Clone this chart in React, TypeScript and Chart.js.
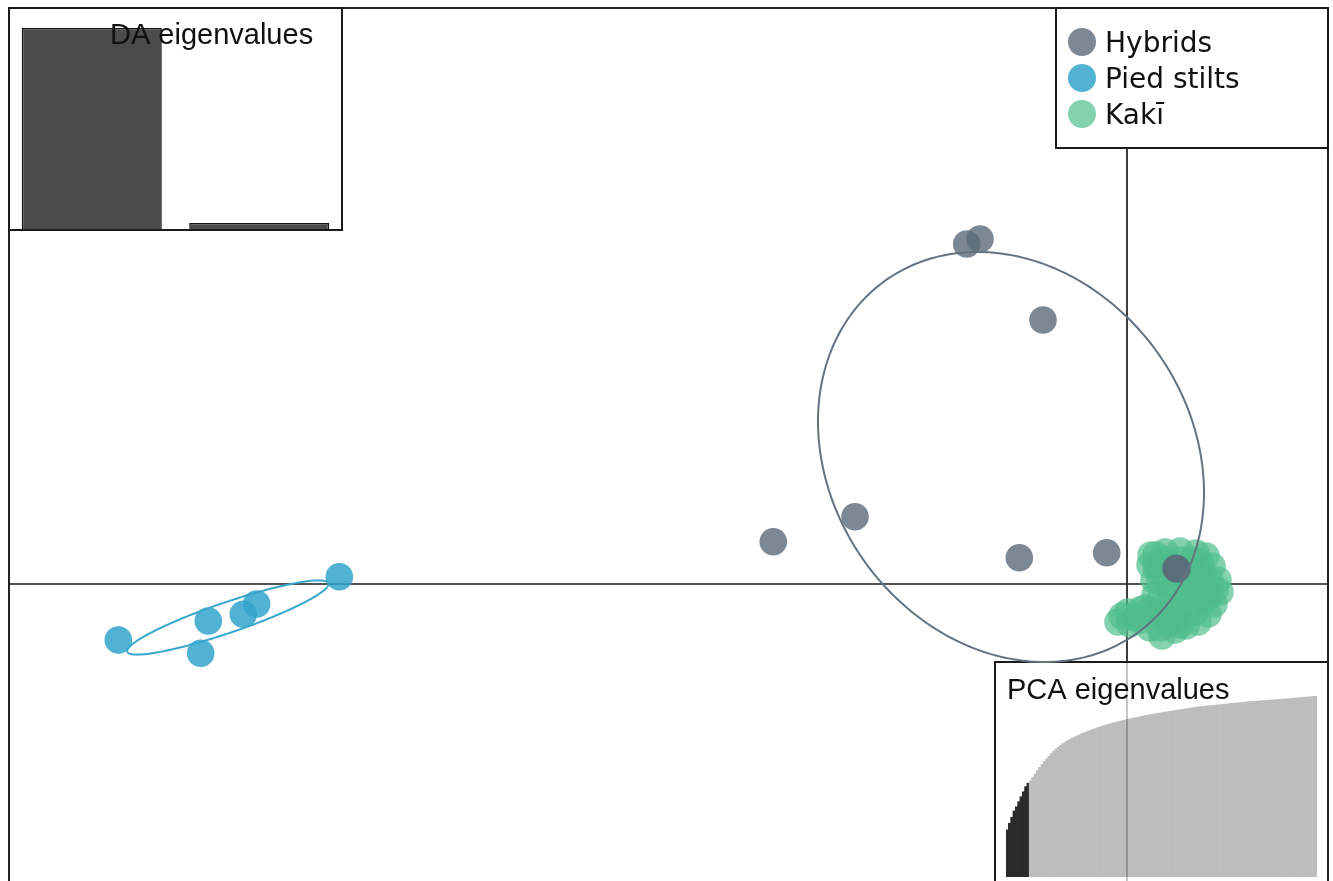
import React, { useEffect, useRef } from "react";
import { Chart, registerables } from "chart.js";

Chart.register(...registerables);

// ---------- data ----------
const GROUPS = ["Hybrids", "Pied stilts", "Kakī"];
const GROUP_COLORS = ["rgba(91,107,121,0.8)", "rgba(50,165,205,0.85)", "rgba(80,190,140,0.7)"];
const ELLIPSE_COLORS = ["#64737f", "#38a6cd"];

const HYBRID_X = [-1.603, -1.47, -0.84, -2.72, -3.537, -1.077, -0.203, 0.49, 0.5];
const HYBRID_Y = [3.40, 3.45, 2.64, 0.673, 0.423, 0.263, 0.313, 0.157, 0.15];

const PIED_X = [-10.087, -9.187, -9.263, -8.837, -8.703, -7.877];
const PIED_Y = [-0.56, -0.37, -0.693, -0.303, -0.20, 0.073];

const KAKI_X = [0.24, 0.38, 0.53, 0.69, 0.79, 0.85, 0.91, 0.93, 0.87, 0.81, 0.71, 0.59, 0.48, 0.35, 0.23,
  0.13, 0.01, -0.09, 0.03, 0.18, 0.28, 0.27, 0.31, 0.43, 0.58, 0.68, 0.78, 0.73, 0.63, 0.51,
  0.38, 0.33, 0.45, 0.58, 0.33, 0.65, 0.49, 0.29, 0.75, 0.41, 0.13, 0.28, 0.55, 0.83,
  0.38, 0.53, 0.73, 0.83, 0.63, 0.43, 0.23, 0.08, 0.48, 0.68, 0.78, 0.38, 0.58, 0.88, 0.33,
  0.23, 0.70, 0.53, -0.05, 0.29];
const KAKI_Y = [0.29, 0.32, 0.33, 0.31, 0.28, 0.18, 0.04, -0.08, -0.20, -0.30, -0.38, -0.42, -0.46, -0.52, -0.44,
  -0.36, -0.28, -0.38, -0.40, -0.24, -0.11, 0.04, 0.14, 0.19, 0.16, 0.09, -0.01, -0.14, -0.21, -0.28,
  -0.31, -0.16, -0.06, -0.06, 0.02, 0.24, 0.06, 0.19, 0.14, -0.38, -0.26, -0.28, -0.16, -0.11,
  0.24, 0.24, 0.22, 0.04, -0.01, -0.16, -0.26, -0.34, -0.36, -0.28, -0.16, 0.09, 0.06, -0.06, -0.44,
  0.19, -0.06, -0.41, -0.32, 0.29];

// group ellipses (Hybrids, Pied stilts)
const ELLIPSE_CX = [-1.16, -8.992];
const ELLIPSE_CY = [1.27, -0.335];
const ELLIPSE_A = [2.166, 1.062];
const ELLIPSE_B = [1.799, 0.152];
const ELLIPSE_ANGLE = [-54.6, 18.8];

// axis ranges of the discriminant plane
const X_MIN = -11.18;
const X_MAX = 2.01;
const Y_MIN = -2.97;
const Y_MAX = 5.76;

// DA eigenvalues inset
const DA_LABELS = ["LD1", "LD2"];
const DA_EIGENVALUES = [1346.2, 40.2];

// PCA eigenvalues inset (cumulated variance, %)
const PCA_CUMVAR = [
  26.0, 29.7, 33.0, 36.5, 38.8, 41.6, 44.4, 47.1, 49.9, 51.8,
  53.0, 55.0, 56.9, 58.8, 60.6, 62.2, 63.8, 65.3, 66.7, 68.1,
  69.4, 70.6, 71.7, 72.7, 73.7, 74.5, 75.3, 76.0, 76.7, 77.3,
  77.9, 78.5, 79.1, 79.6, 80.1, 80.6, 81.1, 81.6, 82.0, 82.5,
  82.9, 83.3, 83.7, 84.1, 84.5, 84.8, 85.2, 85.5, 85.9, 86.2,
  86.5, 86.8, 87.1, 87.4, 87.7, 88.0, 88.2, 88.5, 88.8, 89.0,
  89.3, 89.5, 89.8, 90.0, 90.2, 90.5, 90.7, 90.9, 91.1, 91.3,
  91.5, 91.7, 91.9, 92.1, 92.3, 92.5, 92.7, 92.9, 93.1, 93.3,
  93.5, 93.7, 93.9, 94.1, 94.2, 94.3, 94.5, 94.6, 94.7, 94.9,
  95.0, 95.1, 95.2, 95.4, 95.5, 95.6, 95.8, 95.9, 96.0, 96.2,
  96.3, 96.4, 96.5, 96.7, 96.8, 96.9, 97.0, 97.1, 97.2, 97.3,
  97.4, 97.5, 97.6, 97.7, 97.8, 97.9, 98.0, 98.1, 98.2, 98.3,
  98.4, 98.5, 98.6, 98.8, 98.9, 99.0, 99.1, 99.2, 99.3, 99.4,
  99.5, 99.7, 99.8, 100.0,
];
const PCA_LABELS = PCA_CUMVAR.map((_, i) => `PC${i + 1}`);
const PCA_RETAINED = 10;

// ---------- layout ----------
const W = 1333;
const H = 881;
const DA_BOX = { left: 8, top: 7, width: 335, height: 224 };
const PCA_BOX = { left: 994, top: 661, width: 335, height: 224 };
const LEGEND_BOX = { left: 1056, top: 8, width: 272, height: 140 };

const toPts = (xs: number[], ys: number[]) => xs.map((x, i) => ({ x, y: ys[i] }));

const mainDecor = {
  id: "mainDecor",
  beforeDatasetsDraw(chart: any) {
    const { ctx, chartArea: ca, scales } = chart;
    const x0 = scales.x.getPixelForValue(0);
    const y0 = scales.y.getPixelForValue(0);
    ctx.save();
    ctx.strokeStyle = "#1c1c1c";
    ctx.lineWidth = 1.7;
    ctx.beginPath();
    ctx.moveTo(ca.left, y0);
    ctx.lineTo(ca.right, y0);
    ctx.stroke();
    ctx.beginPath();
    ctx.moveTo(x0, ca.top);
    ctx.lineTo(x0, PCA_BOX.top + 1);
    ctx.stroke();
    ctx.strokeStyle = "rgba(0,0,0,0.3)";
    ctx.lineWidth = 1.5;
    ctx.beginPath();
    ctx.moveTo(x0, PCA_BOX.top + 1);
    ctx.lineTo(x0, H);
    ctx.stroke();
    // frame
    ctx.strokeStyle = "#222";
    ctx.lineWidth = 2;
    ctx.beginPath();
    ctx.moveTo(ca.left, H + 5);
    ctx.lineTo(ca.left, ca.top);
    ctx.lineTo(ca.right, ca.top);
    ctx.lineTo(ca.right, H + 5);
    ctx.stroke();
    ctx.restore();
  },
  afterDatasetsDraw(chart: any) {
    const { ctx, scales } = chart;
    ctx.save();
    ctx.lineWidth = 2;
    for (let k = 0; k < ELLIPSE_CX.length; k++) {
      const ang = (ELLIPSE_ANGLE[k] * Math.PI) / 180;
      ctx.strokeStyle = ELLIPSE_COLORS[k];
      ctx.beginPath();
      for (let t = 0; t <= 360; t += 1) {
        const th = (t * Math.PI) / 180;
        const ex = ELLIPSE_CX[k] + ELLIPSE_A[k] * Math.cos(th) * Math.cos(ang) - ELLIPSE_B[k] * Math.sin(th) * Math.sin(ang);
        const ey = ELLIPSE_CY[k] + ELLIPSE_A[k] * Math.cos(th) * Math.sin(ang) + ELLIPSE_B[k] * Math.sin(th) * Math.cos(ang);
        const px = scales.x.getPixelForValue(ex);
        const py = scales.y.getPixelForValue(ey);
        if (t === 0) ctx.moveTo(px, py);
        else ctx.lineTo(px, py);
      }
      ctx.closePath();
      ctx.stroke();
    }
    ctx.restore();
  },
  afterDraw(chart: any) {
    const { ctx } = chart;
    const b = LEGEND_BOX;
    ctx.save();
    ctx.fillStyle = "#fff";
    ctx.fillRect(b.left, b.top, b.width, b.height);
    ctx.strokeStyle = "#1a1a1a";
    ctx.lineWidth = 2;
    ctx.strokeRect(b.left, b.top, b.width, b.height);
    ctx.font = '28px "DejaVu Sans"';
    ctx.textBaseline = "alphabetic";
    ctx.textAlign = "left";
    GROUPS.forEach((g, i) => {
      const cy = 42 + i * 36;
      ctx.fillStyle = GROUP_COLORS[i];
      ctx.beginPath();
      ctx.arc(1082, cy, 14, 0, Math.PI * 2);
      ctx.fill();
      ctx.fillStyle = "#111";
      ctx.fillText(g, 1105, cy + 9.5);
    });
    ctx.restore();
  },
};

const insetDecor = (title: string, tx: number, ty: number) => ({
  id: "insetDecor",
  beforeDraw(chart: any) {
    const { ctx, width, height } = chart;
    ctx.save();
    ctx.fillStyle = "#fff";
    ctx.fillRect(0, 0, width, height);
    ctx.restore();
  },
  afterDraw(chart: any) {
    const { ctx, width, height } = chart;
    ctx.save();
    ctx.strokeStyle = "#1a1a1a";
    ctx.lineWidth = 2;
    ctx.strokeRect(1, 1, width - 2, height - 2);
    ctx.fillStyle = "#111";
    ctx.font = '29px "Liberation Sans", Arial, sans-serif';
    ctx.textBaseline = "alphabetic";
    ctx.textAlign = "left";
    ctx.fillText(title, tx, ty);
    ctx.restore();
  },
});

export default function App() {
  const mainRef = useRef<HTMLCanvasElement>(null);
  const daRef = useRef<HTMLCanvasElement>(null);
  const pcaRef = useRef<HTMLCanvasElement>(null);

  useEffect(() => {
    const charts: Chart[] = [];
    if (mainRef.current) {
      charts.push(
        new Chart(mainRef.current, {
          type: "scatter",
          data: {
            datasets: [
              { label: GROUPS[0], data: toPts(HYBRID_X, HYBRID_Y), backgroundColor: GROUP_COLORS[0], borderWidth: 0, pointRadius: 13.8 },
              { label: GROUPS[1], data: toPts(PIED_X, PIED_Y), backgroundColor: GROUP_COLORS[1], borderWidth: 0, pointRadius: 13.8 },
              { label: GROUPS[2], data: toPts(KAKI_X, KAKI_Y), backgroundColor: GROUP_COLORS[2], borderWidth: 0, pointRadius: 13.8 },
            ],
          },
          options: {
            responsive: false,
            animation: false,
            layout: { autoPadding: false, padding: { left: 9, right: W - 1328, top: 8, bottom: 0 } },
            scales: {
              x: { type: "linear", min: X_MIN, max: X_MAX, display: false },
              y: { type: "linear", min: Y_MIN, max: Y_MAX, display: false },
            },
            plugins: { legend: { display: false }, tooltip: { enabled: false } },
          } as any,
          plugins: [mainDecor as any],
        })
      );
    }
    if (daRef.current) {
      charts.push(
        new Chart(daRef.current, {
          type: "bar",
          data: {
            labels: DA_LABELS,
            datasets: [
              {
                data: DA_EIGENVALUES,
                backgroundColor: "#4b4b4b",
                borderColor: "#111",
                borderWidth: 1.5,
                barPercentage: 0.836,
                categoryPercentage: 1,
              },
            ],
          },
          options: {
            responsive: false,
            animation: false,
            layout: { autoPadding: false, padding: { left: 0, right: 0, top: 21, bottom: 2 } },
            scales: {
              x: { display: false },
              y: { display: false, min: 0, max: DA_EIGENVALUES[0] },
            },
            plugins: { legend: { display: false }, tooltip: { enabled: false } },
          } as any,
          plugins: [insetDecor("DA eigenvalues", 102, 37) as any],
        })
      );
    }
    if (pcaRef.current) {
      charts.push(
        new Chart(pcaRef.current, {
          type: "bar",
          data: {
            labels: PCA_LABELS,
            datasets: [
              {
                data: PCA_CUMVAR,
                backgroundColor: PCA_CUMVAR.map((_, i) => (i < PCA_RETAINED ? "#2a2a2a" : "#bdbdbd")),
                borderWidth: 0,
                barPercentage: 1,
                categoryPercentage: 1,
              },
            ],
          },
          options: {
            responsive: false,
            animation: false,
            layout: { autoPadding: false, padding: { left: 12, right: 12, top: 35, bottom: 8 } },
            scales: {
              x: { display: false },
              y: { display: false, min: 0, max: 100 },
            },
            plugins: { legend: { display: false }, tooltip: { enabled: false } },
          } as any,
          plugins: [insetDecor("PCA eigenvalues", 13, 38) as any],
        })
      );
    }
    return () => charts.forEach((c) => c.destroy());
  }, []);

  return (
    <div style={{ position: "fixed", left: 0, top: 0, width: W, height: H, overflow: "hidden", background: "#fff" }}>
      <canvas ref={pcaRef} width={PCA_BOX.width} height={PCA_BOX.height}
        style={{ position: "absolute", left: PCA_BOX.left, top: PCA_BOX.top, zIndex: 0 }} />
      <canvas ref={mainRef} width={W} height={H}
        style={{ position: "absolute", left: 0, top: 0, zIndex: 1 }} />
      <canvas ref={daRef} width={DA_BOX.width} height={DA_BOX.height}
        style={{ position: "absolute", left: DA_BOX.left, top: DA_BOX.top, zIndex: 2 }} />
    </div>
  );
}
